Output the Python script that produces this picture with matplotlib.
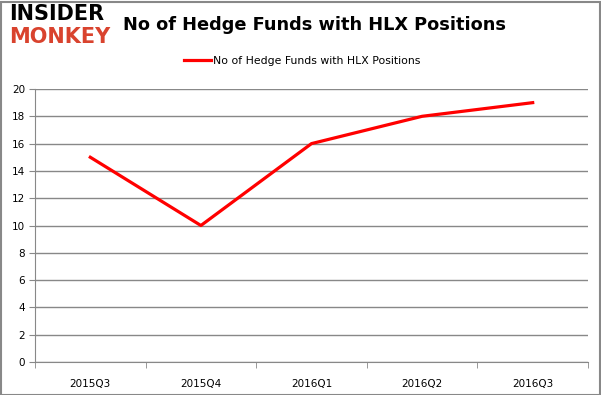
import numpy as np
import matplotlib.pyplot as plt
from matplotlib.patches import Rectangle

# datos del grafico
quarters = ["2015Q3", "2015Q4", "2016Q1", "2016Q2", "2016Q3"]
funds = [15, 10, 16, 18, 19]
y_ticks = [0, 2, 4, 6, 8, 10, 12, 14, 16, 18, 20]

W, H = 601, 395
fig = plt.figure(figsize=(W / 100, H / 100), dpi=100)
ax = fig.add_axes([35 / W, 1 - 362 / H, (588 - 35) / W, (362 - 89) / H])

x = np.arange(len(quarters))
ax.plot(x, funds, color="#ff0000", linewidth=2.3, label="No of Hedge Funds with HLX Positions")

ax.set_xlim(-0.5, len(quarters) - 0.5)
ax.set_ylim(0, 20)
ax.set_yticks(y_ticks)
ax.set_xticks(x)
ax.set_xticklabels(quarters)
ax.set_xticks(np.arange(len(quarters) + 1) - 0.5, minor=True)
ax.tick_params(axis="x", which="major", length=0, pad=12, labelsize=7.5)
ax.tick_params(axis="x", which="minor", length=4, color="#888888")
ax.tick_params(axis="y", length=4, color="#888888", labelsize=7.5, pad=3)

ax.grid(axis="y", color="#888888", linewidth=1)
ax.set_axisbelow(True)
for s in ["top", "right"]:
    ax.spines[s].set_visible(False)
for s in ["left", "bottom"]:
    ax.spines[s].set_color("#888888")

fig.legend(loc="center", bbox_to_anchor=(302 / W, 1 - 61 / H), frameon=False,
           fontsize=7.8, handlelength=2.5, handletextpad=0.2)

fig.text(123 / W, 1 - 25 / H, "No of Hedge Funds with HLX Positions",
         fontsize=12.8, fontweight="bold", va="center", ha="left")

# logo
fig.text(9 / W, 1 - 14 / H, "INSIDER", fontsize=15, fontweight="black",
         va="center", ha="left", color="black")
fig.text(9 / W, 1 - 37 / H, "MONKEY", fontsize=15, fontweight="black",
         va="center", ha="left", color="#d9432e")

# marco gris
fig.patches.append(Rectangle((0.5 / W, 0.5 / H), (W - 2) / W, (H - 2) / H,
                             transform=fig.transFigure, fill=False,
                             edgecolor="#888888", linewidth=1.5))

fig.savefig("out.png", dpi=100)
